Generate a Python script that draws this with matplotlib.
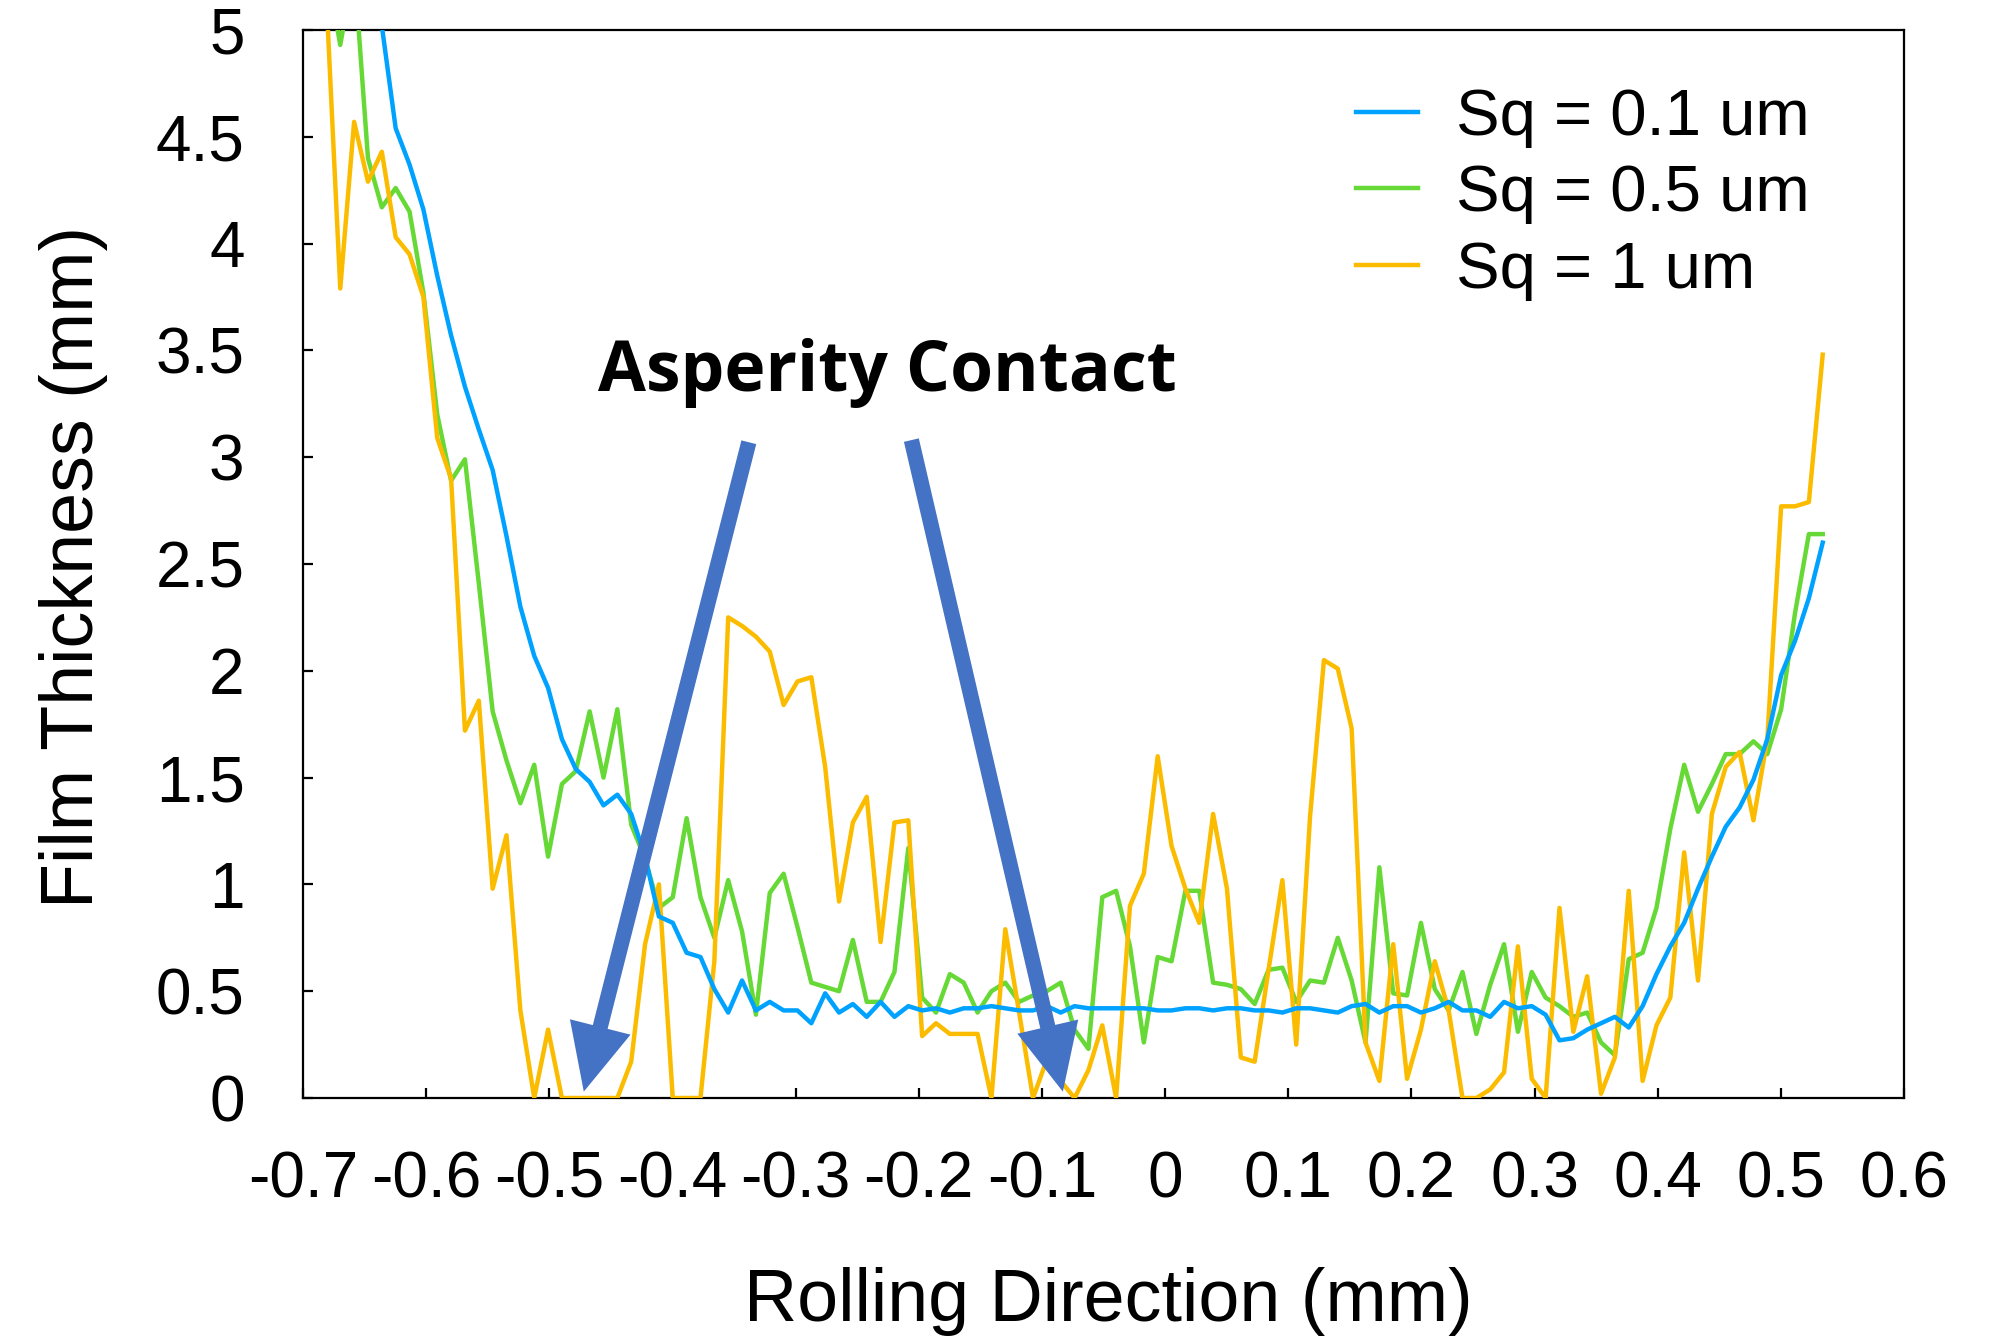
import numpy as np
import matplotlib
matplotlib.use("Agg")
import matplotlib.pyplot as plt

plt.rcParams['font.family'] = ['Liberation Sans', 'DejaVu Sans']
plt.rcParams['axes.unicode_minus'] = False

# Sampling grid along the rolling direction (mm)
x_start = -0.681
x_step = 0.01125

sq_01 = [7.0, 6.4, 5.9, 5.45, 5.02, 4.54, 4.37, 4.16, 3.85, 3.57,
         3.33, 3.13, 2.94, 2.63, 2.30, 2.07, 1.92, 1.68, 1.54, 1.48,
         1.37, 1.42, 1.33, 1.13, 0.85, 0.82, 0.68, 0.66, 0.51, 0.40,
         0.55, 0.41, 0.45, 0.41, 0.41, 0.35, 0.49, 0.40, 0.44, 0.38,
         0.45, 0.38, 0.43, 0.41, 0.42, 0.40, 0.42, 0.42, 0.43, 0.42,
         0.41, 0.41, 0.43, 0.40, 0.43, 0.42, 0.42, 0.42, 0.42, 0.42,
         0.41, 0.41, 0.42, 0.42, 0.41, 0.42, 0.42, 0.41, 0.41, 0.40,
         0.42, 0.42, 0.41, 0.40, 0.43, 0.44, 0.40, 0.43, 0.43, 0.40,
         0.42, 0.45, 0.41, 0.41, 0.38, 0.45, 0.42, 0.43, 0.39, 0.27,
         0.28, 0.32, 0.35, 0.38, 0.33, 0.43, 0.58, 0.71, 0.82, 0.98,
         1.13, 1.27, 1.36, 1.49, 1.68, 1.98, 2.14, 2.34, 2.60]

sq_05 = [5.3, 4.93, 5.3, 4.40, 4.17, 4.26, 4.15, 3.77, 3.20, 2.89,
         2.99, 2.41, 1.81, 1.58, 1.38, 1.56, 1.13, 1.47, 1.53, 1.81,
         1.50, 1.82, 1.28, 1.12, 0.89, 0.94, 1.31, 0.94, 0.75, 1.02,
         0.78, 0.39, 0.96, 1.05, 0.80, 0.54, 0.52, 0.50, 0.74, 0.45,
         0.45, 0.59, 1.17, 0.47, 0.40, 0.58, 0.54, 0.40, 0.50, 0.54,
         0.45, 0.48, 0.50, 0.54, 0.32, 0.23, 0.94, 0.97, 0.71, 0.26,
         0.66, 0.64, 0.97, 0.97, 0.54, 0.53, 0.51, 0.44, 0.60, 0.61,
         0.45, 0.55, 0.54, 0.75, 0.55, 0.26, 1.08, 0.49, 0.48, 0.82,
         0.51, 0.41, 0.59, 0.30, 0.53, 0.72, 0.31, 0.59, 0.47, 0.43,
         0.38, 0.40, 0.26, 0.20, 0.65, 0.68, 0.89, 1.26, 1.56, 1.34,
         1.47, 1.61, 1.61, 1.67, 1.61, 1.82, 2.27, 2.64, 2.64]

sq_1 = [5.15, 3.79, 4.57, 4.29, 4.43, 4.03, 3.95, 3.75, 3.09, 2.90,
        1.72, 1.86, 0.98, 1.23, 0.41, 0.0, 0.32, 0.0, 0.0, 0.0,
        0.0, 0.0, 0.17, 0.72, 1.00, 0.0, 0.0, 0.0, 0.64, 2.25,
        2.21, 2.16, 2.09, 1.84, 1.95, 1.97, 1.55, 0.92, 1.29, 1.41,
        0.73, 1.29, 1.30, 0.29, 0.35, 0.30, 0.30, 0.30, 0.0, 0.79,
        0.40, 0.0, 0.18, 0.08, 0.0, 0.13, 0.34, 0.0, 0.90, 1.05,
        1.60, 1.18, 0.98, 0.82, 1.33, 0.98, 0.19, 0.17, 0.60, 1.02,
        0.25, 1.32, 2.05, 2.01, 1.73, 0.26, 0.08, 0.72, 0.09, 0.32,
        0.64, 0.41, 0.0, 0.0, 0.04, 0.12, 0.71, 0.09, 0.0, 0.89,
        0.31, 0.57, 0.02, 0.19, 0.97, 0.08, 0.34, 0.47, 1.15, 0.55,
        1.33, 1.55, 1.62, 1.30, 1.68, 2.77, 2.77, 2.79, 3.48]

series_labels = ["Sq = 0.1 um", "Sq = 0.5 um", "Sq = 1 um"]
x_ticks = [-0.7, -0.6, -0.5, -0.4, -0.3, -0.2, -0.1, 0, 0.1, 0.2, 0.3, 0.4, 0.5, 0.6]
x_tick_labels = ["-0.7", "-0.6", "-0.5", "-0.4", "-0.3", "-0.2", "-0.1", "0",
                 "0.1", "0.2", "0.3", "0.4", "0.5", "0.6"]
y_ticks = [0, 0.5, 1, 1.5, 2, 2.5, 3, 3.5, 4, 4.5, 5]
y_tick_labels = ["0", "0.5", "1", "1.5", "2", "2.5", "3", "3.5", "4", "4.5", "5"]

# Arrow annotations: (tail x, tail y) -> (tip x, tip y)
arrow_tails = [(-0.338, 3.07), (-0.206, 3.08)]
arrow_tips = [(-0.472, 0.03), (-0.083, 0.03)]

n = len(sq_01)
x = x_start + x_step * np.arange(n)

W, H = 1993, 1342
fig = plt.figure(figsize=(W / 100, H / 100), dpi=100)
L, R, T, B = 303, 1904, 30, 1098
ax = fig.add_axes([L / W, 1 - B / H, (R - L) / W, (B - T) / H])

colors = ['#00A2FF', '#66D936', '#FBBC00']
lw = 3.2
ax.plot(x, sq_05, color=colors[1], lw=lw, zorder=3, label=series_labels[1])
ax.plot(x, sq_1, color=colors[2], lw=lw, zorder=3.5, label=series_labels[2])
ax.plot(x, sq_01, color=colors[0], lw=lw, zorder=4, label=series_labels[0])

ax.set_xlim(-0.7, 0.6)
ax.set_ylim(0, 5)
ax.set_xticks(x_ticks)
ax.set_xticklabels(x_tick_labels)
ax.set_yticks(y_ticks)
ax.set_yticklabels(y_tick_labels)
ax.tick_params(axis='both', direction='in', length=7, width=1.6, labelsize=46)
ax.tick_params(axis='x', pad=38)
ax.tick_params(axis='y', pad=42)
for s in ax.spines.values():
    s.set_linewidth(1.6)
    s.set_zorder(2.5)

for (tx, ty), (hx, hy) in zip(arrow_tails, arrow_tips):
    ax.annotate('', xy=(hx, hy), xytext=(tx, ty),
                arrowprops=dict(arrowstyle='simple,head_length=48,head_width=45,tail_width=11',
                                color='#4472C4', mutation_scale=1, shrinkA=0, shrinkB=0,
                                lw=0),
                zorder=6, annotation_clip=False)

h, lab = ax.get_legend_handles_labels()
order = [2, 0, 1]
leg = ax.legend([h[i] for i in order], [lab[i] for i in order],
                loc='upper left', bbox_to_anchor=((1356 - L) / (R - L), (B - 88) / (B - T)),
                frameon=False, fontsize=47, handlelength=0.95, handletextpad=0.58,
                labelspacing=0.25, borderpad=0, borderaxespad=0)

fig.text(0.445, 1 - 373 / H, "Asperity Contact", fontsize=50, fontweight='bold',
         family=['Open Sans', 'DejaVu Sans'], ha='center', va='center')

fig.text(1108 / W, 1 - 1302 / H, "Rolling Direction (mm)", fontsize=53,
         ha='center', va='center')
fig.text(74 / W, 1 - 567 / H, "Film Thickness (mm)", fontsize=53,
         rotation=90, ha='center', va='center')

fig.savefig("out.png", dpi=100)
